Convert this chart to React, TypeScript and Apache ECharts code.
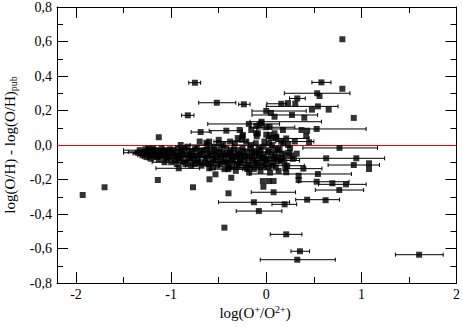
import React, { useEffect, useRef } from 'react';
import * as echarts from 'echarts';

// Each point: [x, y, xLow, xHigh]; xLow/xHigh = null when no error bar
const isolatedPoints: (number | null)[][] = [
  [-1.93, -0.29, null, null],
  [-1.70, -0.245, null, null],
  [0.80, 0.613, null, null],
  [0.58, 0.363, 0.48, 0.68],
  [0.80, 0.326, null, null],
  [0.535, 0.30, 0.19, 0.88],
  [0.56, 0.284, null, null],
  [0.326, 0.27, 0.245, 0.41],
  [0.92, 0.157, null, null],
  [-0.75, 0.361, -0.815, -0.69],
  [-0.52, 0.245, -0.71, -0.32],
  [-0.236, 0.236, -0.29, -0.17],
  [-0.825, 0.172, -0.89, -0.76],
  [-0.69, 0.075, -0.79, -0.58],
  [-1.13, 0.045, null, null],
  [0.158, 0.239, 0.006, 0.21],
  [0.228, 0.243, null, null],
  [0.305, 0.239, null, null],
  [0.543, 0.224, 0.0, 0.754],
  [0.48, 0.205, null, null],
  [0.656, 0.205, null, null],
  [0.0, 0.197, -0.15, 0.42],
  [0.05, 0.186, null, null],
  [0.087, 0.164, null, null],
  [0.27, 0.174, -0.15, 0.54],
  [0.40, 0.158, null, null],
  [-0.05, 0.135, -0.17, 0.58],
  [0.53, 0.093, -0.1, 1.05],
  [0.37, 0.087, null, null],
  [0.43, 0.083, null, null],
  [0.175, 0.087, null, null],
  [0.035, 0.106, null, null],
  [0.42, 0.052, null, null],
  [0.45, 0.016, null, null],
  [0.77, -0.017, 0.385, 1.17],
  [0.63, -0.077, 0.316, 1.245],
  [0.947, -0.077, null, null],
  [0.92, -0.116, 0.65, 1.19],
  [1.08, -0.106, null, null],
  [1.08, -0.139, null, null],
  [0.39, -0.137, 0.2, 0.585],
  [0.21, -0.158, null, null],
  [0.543, -0.168, -0.175, 0.895],
  [0.34, -0.178, null, null],
  [0.34, -0.203, null, null],
  [0.53, -0.213, 0.34, 0.87],
  [0.695, -0.222, null, null],
  [0.838, -0.228, 0.55, 1.05],
  [0.768, -0.261, 0.516, 1.024],
  [0.077, -0.274, -0.158, 0.308],
  [-0.13, -0.332, -0.502, 0.245],
  [0.43, -0.317, 0.31, 0.77],
  [0.624, -0.32, null, null],
  [0.193, -0.344, 0.06, 0.32],
  [-0.078, -0.383, -0.316, 0.164],
  [0.21, -0.518, 0.042, 0.375],
  [0.354, -0.616, 0.26, 0.456],
  [0.326, -0.665, -0.063, 0.726],
  [1.607, -0.636, 1.358, 1.86],
  [-0.77, -0.245, null, null],
  [-0.397, -0.28, null, null],
  [-0.44, -0.479, null, null],
  [-1.14, -0.203, null, null],
  [-0.597, -0.199, null, null],
  [-0.534, -0.17, null, null],
  [-0.368, -0.19, null, null],
  [-0.92, -0.135, -1.16, -0.70],
  [-0.03, -0.242, null, null],
  [-0.036, -0.209, null, null],
  [0.027, -0.209, null, null],
  [0.077, -0.209, null, null],
  [-0.105, 0.11, null, null],
  [-0.05, 0.126, null, null],
  [0.0, 0.103, -0.17, 0.3],
  [-0.158, 0.087, null, null],
  [-0.088, 0.067, null, null],
  [0.035, 0.058, null, null],
  [0.105, 0.048, null, null],
  [0.21, 0.038, 0.0, 0.45],
  [0.158, 0.019, null, null],
  [-0.183, 0.122, -0.615, 0.14],
  [-0.07, 0.116, null, null],
  [-0.28, 0.087, null, null],
  [-0.246, 0.058, null, null],
  [-0.105, 0.068, null, null],
  [0.087, 0.068, null, null],
  [0.105, 0.039, null, null],
  [-0.42, 0.083, -0.6, -0.25],
  [-0.63, 0.013, null, null],
];

const cloudPoints: (number | null)[][] = [
  [-1.33, -0.03, -1.5, -1.2], [-1.28, -0.04, -1.45, -1.1], [-1.25, -0.05, -1.4, -1.1],
  [-1.22, -0.03, null, null], [-1.2, -0.06, -1.35, -1.05], [-1.18, -0.04, null, null],
  [-1.15, -0.07, -1.3, -1.0], [-1.12, -0.05, null, null], [-1.1, -0.02, -1.25, -0.95],
  [-1.08, -0.06, null, null], [-1.05, -0.08, -1.25, -0.9], [-1.02, -0.04, null, null],
  [-1.0, -0.1, -1.2, -0.85], [-0.98, -0.03, null, null], [-0.95, -0.06, -1.1, -0.8],
  [-0.93, -0.02, null, null], [-0.9, -0.08, null, null], [-0.88, -0.05, -1.05, -0.7],
  [-0.85, -0.11, null, null], [-0.83, -0.01, null, null], [-0.8, -0.07, -0.95, -0.65],
  [-0.78, -0.04, null, null], [-0.76, -0.09, null, null], [-0.73, -0.02, -0.85, -0.6],
  [-0.7, -0.06, null, null], [-0.68, -0.12, -0.85, -0.5], [-0.66, -0.03, null, null],
  [-0.64, -0.08, null, null], [-0.62, 0.0, -0.8, -0.45], [-0.6, -0.05, null, null],
  [-0.58, -0.1, -0.75, -0.4], [-0.56, -0.13, null, null], [-0.54, -0.03, null, null],
  [-0.52, -0.07, -0.7, -0.3], [-0.5, 0.01, null, null], [-0.48, -0.11, null, null],
  [-0.46, -0.05, -0.6, -0.3], [-0.44, -0.14, -0.6, -0.25], [-0.42, -0.02, null, null],
  [-0.4, -0.08, null, null], [-0.38, 0.02, -0.55, -0.2], [-0.36, -0.12, null, null],
  [-0.34, -0.06, -0.5, -0.15], [-0.32, -0.15, null, null], [-0.3, -0.03, null, null],
  [-0.28, -0.1, -0.45, -0.1], [-0.26, 0.03, null, null], [-0.24, -0.07, null, null],
  [-0.22, -0.13, -0.4, 0.0], [-0.2, -0.04, null, null], [-0.18, -0.16, null, null],
  [-0.16, 0.0, -0.35, 0.05], [-0.14, -0.09, null, null], [-0.12, -0.05, null, null],
  [-0.1, -0.12, -0.3, 0.1], [-0.08, -0.02, null, null], [-0.06, -0.15, null, null],
  [-0.04, -0.07, -0.2, 0.15], [-0.02, 0.02, null, null], [0.0, -0.11, null, null],
  [0.02, -0.04, -0.1, 0.2], [0.04, -0.16, null, null], [0.06, 0.0, null, null],
  [0.08, -0.08, -0.05, 0.3], [0.1, -0.13, null, null], [0.12, -0.03, null, null],
  [0.15, -0.09, 0.0, 0.35], [0.18, 0.01, null, null], [0.2, -0.06, null, null],
  [0.22, -0.12, 0.05, 0.4], [0.25, -0.02, null, null], [0.28, -0.08, null, null],
  [0.3, 0.02, 0.1, 0.5], [0.32, -0.05, null, null],
  [-1.3, -0.06, null, null], [-1.24, -0.02, null, null], [-1.16, -0.03, null, null],
  [-1.06, -0.03, -1.2, -0.9], [-1.03, -0.07, null, null], [-0.96, -0.09, null, null],
  [-0.91, -0.04, null, null], [-0.86, -0.02, null, null], [-0.82, -0.09, -0.95, -0.7],
  [-0.74, -0.06, null, null], [-0.71, -0.1, null, null], [-0.67, -0.05, null, null],
  [-0.63, -0.03, null, null], [-0.61, -0.11, null, null], [-0.57, -0.06, null, null],
  [-0.55, -0.01, null, null], [-0.53, -0.09, null, null], [-0.49, -0.04, null, null],
  [-0.47, -0.08, null, null], [-0.45, 0.0, null, null], [-0.43, -0.1, null, null],
  [-0.41, -0.05, null, null], [-0.39, -0.13, null, null], [-0.37, -0.03, null, null],
  [-0.35, -0.09, null, null], [-0.33, 0.01, null, null], [-0.31, -0.07, null, null],
  [-0.29, -0.12, null, null], [-0.27, -0.05, null, null], [-0.25, -0.02, null, null],
  [-0.23, -0.1, null, null], [-0.21, 0.02, null, null], [-0.19, -0.08, null, null],
  [-0.17, -0.12, null, null], [-0.15, -0.04, null, null], [-0.13, -0.14, null, null],
  [-0.11, 0.01, null, null], [-0.09, -0.09, null, null], [-0.07, -0.05, null, null],
  [-0.05, -0.12, null, null], [-0.03, -0.01, null, null], [-0.01, -0.08, null, null],
  [0.01, -0.13, null, null], [0.03, 0.01, null, null], [0.05, -0.06, null, null],
  [0.07, -0.1, null, null], [0.09, -0.02, null, null], [0.11, -0.07, null, null],
  [0.13, -0.15, null, null], [0.16, -0.05, null, null], [0.19, -0.1, null, null],
  [0.23, 0.0, null, null], [0.26, -0.06, null, null],
  [-0.3, 0.04, null, null], [-0.1, 0.05, null, null], [0.05, 0.04, null, null],
  [-0.5, 0.03, null, null], [-0.7, 0.02, null, null],
];

const cloudCorePoints: (number | null)[][] = [
  [-1.35, -0.045, -1.5, -1.22], [-1.31, -0.05, null, null], [-1.27, -0.025, null, null],
  [-1.26, -0.07, null, null], [-1.23, -0.045, -1.38, -1.1], [-1.21, -0.08, null, null],
  [-1.19, -0.02, null, null], [-1.17, -0.055, null, null], [-1.14, -0.035, -1.28, -1.0],
  [-1.13, -0.085, null, null], [-1.11, -0.06, null, null], [-1.09, -0.04, null, null],
  [-1.07, -0.1, null, null], [-1.04, -0.05, -1.2, -0.9], [-1.01, -0.025, null, null],
  [-0.99, -0.065, null, null], [-0.97, -0.045, null, null], [-0.94, -0.11, null, null],
  [-0.92, -0.07, -1.08, -0.78], [-0.89, -0.03, null, null], [-0.87, -0.095, null, null],
  [-0.84, -0.055, null, null], [-0.81, -0.035, null, null], [-0.79, -0.12, null, null],
  [-0.77, -0.065, -0.92, -0.6], [-0.75, -0.025, null, null], [-0.72, -0.085, null, null],
  [-0.69, -0.04, null, null], [-0.65, -0.1, null, null], [-0.62, -0.065, -0.8, -0.45],
  [-0.59, -0.025, null, null], [-0.56, -0.085, null, null], [-0.53, -0.045, null, null],
  [-0.51, -0.12, null, null], [-0.48, -0.02, null, null], [-0.46, -0.095, -0.62, -0.3],
  [-0.44, -0.06, null, null], [-0.41, -0.11, null, null], [-0.38, -0.045, null, null],
  [-0.36, -0.075, null, null], [-0.34, -0.025, null, null], [-0.31, -0.11, null, null],
  [-0.29, -0.055, -0.45, -0.12], [-0.27, -0.085, null, null], [-0.24, -0.035, null, null],
  [-0.22, -0.065, null, null], [-0.19, -0.115, null, null], [-0.17, -0.02, null, null],
  [-0.15, -0.075, -0.3, 0.0], [-0.13, -0.035, null, null], [-0.11, -0.105, null, null],
  [-0.08, -0.06, null, null], [-0.06, -0.03, null, null], [-0.04, -0.1, null, null],
  [-0.02, -0.055, null, null], [0.01, -0.09, -0.12, 0.15], [0.03, -0.03, null, null],
  [0.06, -0.12, null, null], [0.09, -0.055, null, null], [0.12, -0.095, null, null],
  [0.14, -0.02, null, null], [0.17, -0.075, null, null], [0.2, -0.135, null, null],
  [0.24, -0.045, null, null], [-0.9, 0.0, null, null], [-0.6, 0.02, null, null],
  [-0.25, 0.05, null, null], [0.0, 0.06, null, null], [-0.2, -0.14, -0.4, 0.05],
  [-0.4, -0.14, null, null], [-0.6, -0.135, null, null], [-0.75, -0.11, -0.9, -0.55],
];

const xMajorTicks = [-2, -1, 0, 1, 2];
const xMinorTicks = [-1.5, -0.5, 0.5, 1.5];
const xMin = -2.2;
const xMax = 2;
const yMin = -0.8;
const yMax = 0.8;
const yStep = 0.2;

const SERIF = '"Liberation Serif", "DejaVu Serif", serif';

export default function App() {
  const ref = useRef<HTMLDivElement>(null);
  useEffect(() => {
    if (!ref.current) return;
    const chart = echarts.init(ref.current, undefined, { renderer: 'svg' });
    const all = [...cloudPoints, ...cloudCorePoints, ...isolatedPoints];
    const scatterData = all.map((p) => [p[0], p[1]]);
    const errData = all.filter((p) => p[2] !== null && p[3] !== null).map((p) => [p[0], p[1], p[2], p[3]]);

    const baseX = {
      type: 'value',
      min: xMin,
      max: xMax,
      splitLine: { show: false },
    };
    const baseY = {
      type: 'value',
      min: yMin,
      max: yMax,
      interval: yStep,
      splitLine: { show: false },
    };
    const lineStyle = { color: '#000', width: 1 };

    chart.setOption({
      animation: false,
      grid: { left: 57, top: 7, width: 400, height: 276, containLabel: false },
      xAxis: [
        {
          ...baseX,
          position: 'bottom',
          axisLine: { show: true, onZero: false, lineStyle },
          axisTick: { show: true, inside: true, length: 11, customValues: xMajorTicks, lineStyle },
          axisLabel: {
            show: true,
            customValues: xMajorTicks,
            formatter: (v: number) => String(Math.round(v)),
            color: '#000',
            fontFamily: SERIF,
            fontSize: 14,
            margin: 4,
          },
        },
        {
          ...baseX,
          position: 'bottom',
          axisLine: { show: false, onZero: false },
          axisTick: { show: true, inside: true, length: 6, customValues: xMinorTicks, lineStyle },
          axisLabel: { show: false },
        },
        {
          ...baseX,
          position: 'top',
          axisLine: { show: true, onZero: false, lineStyle },
          axisTick: { show: true, inside: true, length: 11, customValues: xMajorTicks, lineStyle },
          axisLabel: { show: false },
        },
        {
          ...baseX,
          position: 'top',
          axisLine: { show: false, onZero: false },
          axisTick: { show: true, inside: true, length: 6, customValues: xMinorTicks, lineStyle },
          axisLabel: { show: false },
        },
      ],
      yAxis: [
        {
          ...baseY,
          position: 'left',
          axisLine: { show: true, onZero: false, lineStyle },
          axisTick: { show: true, inside: true, length: 11, lineStyle },
          minorTick: { show: true, splitNumber: 2, length: 6, lineStyle },
          axisLabel: {
            formatter: (v: number) => v.toFixed(1).replace('.', ','),
            color: '#000',
            fontFamily: SERIF,
            fontSize: 14,
            margin: 5,
          },
        },
        {
          ...baseY,
          position: 'right',
          axisLine: { show: true, onZero: false, lineStyle },
          axisTick: { show: true, inside: true, length: 11, lineStyle },
          minorTick: { show: true, splitNumber: 2, length: 6, lineStyle },
          axisLabel: { show: false },
        },
      ],
      series: [
        {
          type: 'custom',
          xAxisIndex: 0,
          yAxisIndex: 0,
          data: errData,
          silent: true,
          z: 2,
          renderItem: (params: any, api: any) => {
            const y = api.value(1);
            const p1 = api.coord([api.value(2), y]);
            const p2 = api.coord([api.value(3), y]);
            const h = 2;
            const st = { stroke: '#000', lineWidth: 1 };
            return {
              type: 'group',
              children: [
                { type: 'line', shape: { x1: p1[0], y1: p1[1], x2: p2[0], y2: p2[1] }, style: st },
                { type: 'line', shape: { x1: p1[0], y1: p1[1] - h, x2: p1[0], y2: p1[1] + h }, style: st },
                { type: 'line', shape: { x1: p2[0], y1: p2[1] - h, x2: p2[0], y2: p2[1] + h }, style: st },
              ],
            };
          },
        },
        {
          type: 'scatter',
          xAxisIndex: 0,
          yAxisIndex: 0,
          data: scatterData,
          symbol: 'rect',
          symbolSize: 6,
          itemStyle: { color: '#000' },
          z: 3,
          markLine: {
            silent: true,
            symbol: ['none', 'none'],
            label: { show: false },
            lineStyle: { color: '#ff0000', width: 1, type: 'solid' },
            data: [{ yAxis: 0 }],
            z: 1,
          },
        },
      ],
      graphic: [
        {
          type: 'text',
          x: 255,
          y: 313,
          style: {
            text: '{a|log(O}{s|+}{a|/O}{s|2+}{a|)}',
            align: 'center',
            verticalAlign: 'middle',
            rich: {
              a: { fontFamily: SERIF, fontSize: 15, fill: '#000' },
              s: { fontFamily: SERIF, fontSize: 10, fill: '#000', padding: [0, 0, 8, 0] },
            },
          },
        },
        {
          type: 'text',
          x: 10,
          y: 145,
          rotation: Math.PI / 2,
          style: {
            text: '{a|log(O/H) - log(O/H)}{b|pub}',
            align: 'center',
            verticalAlign: 'middle',
            rich: {
              a: { fontFamily: SERIF, fontSize: 15, fill: '#000' },
              b: { fontFamily: SERIF, fontSize: 10, fill: '#000', padding: [7, 0, 0, 0] },
            },
          },
        },
      ],
    });
    return () => chart.dispose();
  }, []);
  return <div ref={ref} style={{ position: 'absolute', left: 0, top: 0, width: 463, height: 327 }} />;
}
